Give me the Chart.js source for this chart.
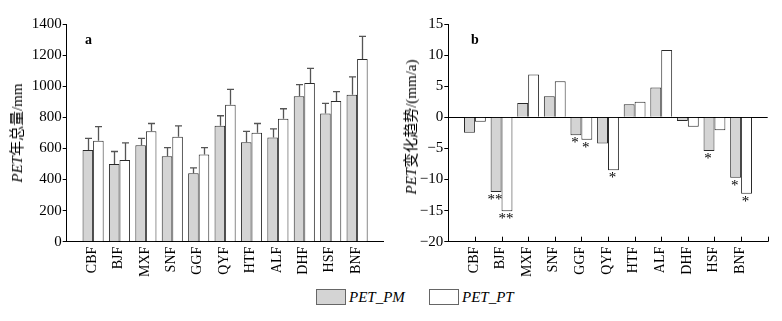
<!DOCTYPE html>
<html>
<head>
<meta charset="utf-8">
<script src="https://cdn.jsdelivr.net/npm/chart.js@4/dist/chart.umd.min.js"></script>
<style>
html,body{margin:0;padding:0;background:#fff;}
body{width:782px;height:321px;position:relative;overflow:hidden;font-family:"Liberation Serif","Times New Roman",serif;color:#000;}
canvas{position:absolute;top:0;}
.t{position:absolute;white-space:nowrap;color:#000;}
.ytitle{font-size:15px;line-height:16px;transform:translate(-50%,-50%) rotate(-90deg);font-family:"Liberation Serif","Noto Sans CJK SC",serif;}
.panel{font-size:14px;font-weight:bold;line-height:14px;}
.sw{position:absolute;width:28px;height:14px;border:1px solid #666;}
.lg{font-size:15px;font-style:italic;line-height:16px;}
</style>
</head>
<body>
<canvas id="cl" width="390" height="285" style="left:0"></canvas>
<canvas id="cr" width="392" height="285" style="left:390px"></canvas>

<div class="t ytitle" style="left:17px;top:133px;"><i>PET</i>年总量/mm</div>
<div class="t ytitle" style="left:411px;top:127px;"><i>PET</i>变化趋势/(mm/a)</div>
<div class="t panel" style="left:85px;top:33px;">a</div>
<div class="t panel" style="left:471px;top:33px;">b</div>

<div class="sw" style="left:316px;top:289px;background:#d4d4d4;"></div>
<div class="t lg" id="lg1" style="left:349px;top:289px;"></div>
<div class="sw" style="left:429px;top:289px;background:#fff;"></div>
<div class="t lg" id="lg2" style="left:462px;top:289px;"></div>

<script>
// ---- data ----
const categories = ['CBF','BJF','MXF','SNF','GGF','QYF','HTF','ALF','DHF','HSF','BNF'];
const seriesNames = ['PET_PM','PET_PT'];
// annual total PET (mm) and standard deviation
const pmTotal = [590, 500, 620, 550, 440, 745, 640, 670, 935, 825, 945];
const pmSD    = [75, 80, 45, 55, 35, 65, 70, 55, 75, 65, 115];
const ptTotal = [650, 525, 710, 675, 560, 880, 700, 790, 1020, 905, 1175];
const ptSD    = [90, 110, 50, 70, 45, 100, 60, 65, 95, 60, 145];
// PET trends (mm/a)
const pmTrend = [-2.5, -12.0, 2.3, 3.4, -2.9, -4.2, 2.1, 4.8, -0.6, -5.4, -9.7];
const ptTrend = [-0.7, -15.1, 6.9, 5.8, -3.6, -8.5, 2.5, 10.8, -1.5, -2.1, -12.3];
// significance marks
const pmSig = ['', '**', '', '', '*', '', '', '', '', '*', '*'];
const ptSig = ['', '**', '', '', '*', '*', '', '', '', '', '*'];

document.getElementById('lg1').textContent = seriesNames[0];
document.getElementById('lg2').textContent = seriesNames[1];

Chart.defaults.color = '#000';
Chart.defaults.font.family = '"Liberation Serif","Times New Roman",serif';

const GRAY = '#d4d4d4';
const EDGE = '#2a2a2a';

function pts(arr){ return arr.map((v,i)=>({x:i+1, y:v})); }
function catLabel(v){ return categories[v-1] || ''; }

const errorBarPlugin = {
  id: 'errbars',
  afterDatasetsDraw(chart){
    const ctx = chart.ctx, ys = chart.scales.y;
    const sds = [pmSD, ptSD], vals = [pmTotal, ptTotal];
    ctx.save();
    ctx.strokeStyle = '#555';
    ctx.lineWidth = 1.3;
    for (let d=0; d<2; d++){
      const meta = chart.getDatasetMeta(d);
      meta.data.forEach((el,j)=>{
        const top = ys.getPixelForValue(vals[d][j] + sds[d][j]);
        const x = Math.round(el.x)+0.5;
        ctx.beginPath();
        ctx.moveTo(x, el.y);
        ctx.lineTo(x, top);
        ctx.moveTo(x-3.5, top);
        ctx.lineTo(x+3.5, top);
        ctx.stroke();
      });
    }
    ctx.restore();
  }
};

const starPlugin = {
  id: 'stars',
  afterDatasetsDraw(chart){
    const ctx = chart.ctx;
    const sigs = [pmSig, ptSig];
    ctx.save();
    ctx.fillStyle = '#000';
    ctx.font = '15px "Liberation Serif", serif';
    ctx.textAlign = 'center';
    ctx.textBaseline = 'top';
    for (let d=0; d<2; d++){
      const meta = chart.getDatasetMeta(d);
      meta.data.forEach((el,j)=>{
        const s = sigs[d][j];
        if (s) ctx.fillText(s, el.x - 1, el.y + 0.5);
      });
    }
    ctx.restore();
  }
};

const innerTicksPlugin = {
  id: 'innerTicks',
  afterDraw(chart){
    const ctx = chart.ctx, xs = chart.scales.x;
    const b = chart.chartArea.bottom;
    ctx.save();
    ctx.strokeStyle = '#000';
    ctx.lineWidth = 1;
    for (let v = 1; v <= categories.length + 1; v++){
      const x = Math.round(xs.getPixelForValue(v)) + 0.5;
      ctx.beginPath();
      ctx.moveTo(x, b);
      ctx.lineTo(x, b - 5);
      ctx.stroke();
    }
    ctx.restore();
  }
};

function xScale(){
  return {
    type: 'linear', min: 0, max: categories.length + 1, offset: false,
    afterBuildTicks(s){ s.ticks = categories.map((c,i)=>({ value: i+1 })); },
    ticks: { autoSkip: false, minRotation: 90, maxRotation: 90, padding: 5, labelOffset: -1,
             font: { size: 14 }, callback: catLabel },
    grid: { display: true, offset: false, drawOnChartArea: false, drawTicks: false },
    border: { display: true, color: '#000', width: 1 },
    afterFit(s){ s.height = 43.3; }
  };
}

const commonOpts = {
  responsive: false,
  devicePixelRatio: 1,
  animation: false,
  events: [],
  plugins: { legend: { display: false }, tooltip: { enabled: false } }
};

new Chart(document.getElementById('cl'), {
  type: 'bar',
  data: {
    datasets: [
      { label: seriesNames[0], data: pts(pmTotal), backgroundColor: GRAY, borderColor: EDGE, borderWidth: 1,
        categoryPercentage: 0.8, barPercentage: 1.0 },
      { label: seriesNames[1], data: pts(ptTotal), backgroundColor: '#fff', borderColor: EDGE, borderWidth: 1,
        categoryPercentage: 0.8, barPercentage: 1.0 }
    ]
  },
  options: Object.assign({}, commonOpts, {
    layout: { padding: { top: 24, right: 6.5, left: 0, bottom: 0 } },
    scales: {
      x: xScale(),
      y: {
        min: 0, max: 1400,
        ticks: { stepSize: 200, padding: 1, font: { size: 15 }, callback: v => String(v) },
        grid: { drawOnChartArea: false, drawTicks: true, tickLength: 4, tickColor: '#000' },
        border: { display: true, color: '#000', width: 1 },
        afterFit(s){ s.width = 66.7; }
      }
    }
  }),
  plugins: [errorBarPlugin]
});

new Chart(document.getElementById('cr'), {
  type: 'bar',
  data: {
    datasets: [
      { label: seriesNames[0], data: pts(pmTrend), backgroundColor: GRAY, borderColor: EDGE, borderWidth: 1,
        categoryPercentage: 0.82, barPercentage: 1.0 },
      { label: seriesNames[1], data: pts(ptTrend), backgroundColor: '#fff', borderColor: EDGE, borderWidth: 1,
        categoryPercentage: 0.82, barPercentage: 1.0 }
    ]
  },
  options: Object.assign({}, commonOpts, {
    layout: { padding: { top: 24, right: 14.3, left: 0, bottom: 0 } },
    scales: {
      x: xScale(),
      y: {
        min: -20, max: 15,
        ticks: { stepSize: 5, padding: 1, font: { size: 15 },
                 callback: v => String(v).replace('-', '\u2212') },
        grid: { drawOnChartArea: true, drawTicks: true, tickLength: 4,
                color: c => (c.tick && c.tick.value === 0) ? '#000' : 'rgba(0,0,0,0)',
                tickColor: '#000' },
        border: { display: true, color: '#000', width: 1 },
        afterFit(s){ s.width = 58.3; }
      }
    }
  }),
  plugins: [starPlugin, innerTicksPlugin]
});
</script>
</body>
</html>
